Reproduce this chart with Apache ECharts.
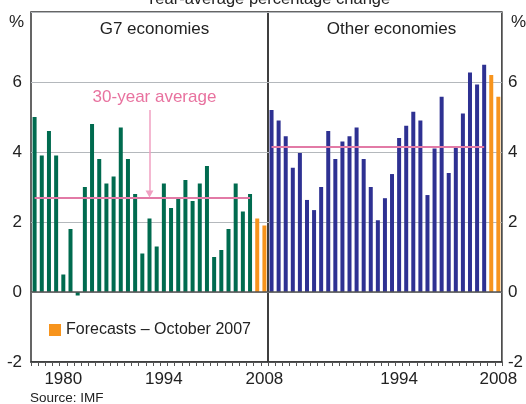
<!DOCTYPE html>
<html>
<head>
<meta charset="utf-8">
<script src="https://cdn.jsdelivr.net/npm/echarts@6/dist/echarts.min.js"></script>
<style>
html,body{margin:0;padding:0;background:#fff;}
#chart{width:526px;height:404px;}
</style>
</head>
<body>
<div id="chart"></div>
<script>
const years = ['1976','1977','1978','1979','1980','1981','1982','1983','1984','1985','1986','1987','1988','1989','1990','1991','1992','1993','1994','1995','1996','1997','1998','1999','2000','2001','2002','2003','2004','2005','2006','2007','2008'];
const leftTickLabels = ['1980','1994','2008'];
const rightTickLabels = ['1994','2008'];
const g7Actual = [5.0,3.9,4.6,3.9,0.5,1.8,-0.1,3.0,4.8,3.8,3.1,3.3,4.7,3.8,2.8,1.1,2.1,1.3,3.1,2.4,2.7,3.2,2.6,3.1,3.6,1.0,1.2,1.8,3.1,2.3,2.8,null,null];
const g7Forecast = [null,null,null,null,null,null,null,null,null,null,null,null,null,null,null,null,null,null,null,null,null,null,null,null,null,null,null,null,null,null,null,2.1,1.9];
const otherActual = [5.2,4.9,4.45,3.55,3.97,2.63,2.34,3.0,4.6,3.8,4.3,4.45,4.7,3.8,3.0,2.05,2.68,3.37,4.4,4.75,5.15,4.9,2.77,4.1,5.58,3.4,4.12,5.1,6.27,5.93,6.49,null,null];
const otherForecast = [null,null,null,null,null,null,null,null,null,null,null,null,null,null,null,null,null,null,null,null,null,null,null,null,null,null,null,null,null,null,null,6.2,5.58];
const g7Average = 2.7;
const otherAverage = 4.15;
const averageStart = '1976';
const averageEnd = '2006';
const arrowYear = '1992';
const arrowFrom = 5.2;
const arrowTo = 2.8;
const yTicks = [-2,0,2,4,6];

const FONT = "'Liberation Sans', Arial, sans-serif";
const GREEN = '#006b4f', BLUE = '#2e3192', ORANGE = '#f7941d', PINK = '#e27aa6', ARROWPINK = '#f0a0c2';
const FORECAST = 'Forecasts \u2013 October 2007';

const chart = echarts.init(document.getElementById('chart'), null, {renderer:'canvas'});

function xAxisCfg(gridIndex, labels){
  return {
    type:'category', gridIndex, data:years, boundaryGap:true, position:'bottom',
    axisLine:{show:true, onZero:false, lineStyle:{color:'#333', width:1.5}},
    axisTick:{show:true, inside:false, length:4, interval:0, lineStyle:{color:'#555', width:1}},
    axisLabel:{show:true, interval:0, margin:9, fontFamily:FONT, fontSize:17, color:'#222',
      formatter: v => labels.indexOf(v) >= 0 ? v : ''},
    splitLine:{show:false}
  };
}
function yAxisCfg(gridIndex, pos, margin){
  return {
    type:'value', gridIndex, min:-2, max:8, interval:2, position:pos,
    axisLine:{show:false}, axisTick:{show:false},
    axisLabel:{margin, fontFamily:FONT, fontSize:17, color:'#222',
      formatter: v => yTicks.indexOf(v) >= 0 ? String(v) : ''},
    splitLine:{show:true, lineStyle:{color:'#b4b8bc', width:1}}
  };
}
const zeroLine = {silent:true, symbol:'none', label:{show:false},
  lineStyle:{color:'#555', width:1.5, type:'solid'}, data:[{yAxis:0}]};

function avgLine(val){
  return {silent:true, symbol:'none', label:{show:false}, animation:false,
    lineStyle:{color:PINK, width:2, type:'solid'},
    data:[[{coord:[averageStart, val]},{coord:[averageEnd, val]}]]};
}

const option = {
  animation:false,
  backgroundColor:'#fff',
  textStyle:{fontFamily:FONT},
  title:[
    {text:'G7 economies', left:149.5, top:16, textAlign:'center',
      textStyle:{fontFamily:FONT, fontSize:17, fontWeight:'normal', color:'#222'}},
    {text:'Other economies', left:386.5, top:16, textAlign:'center',
      textStyle:{fontFamily:FONT, fontSize:17, fontWeight:'normal', color:'#222'}}
  ],
  legend:{
    data:[{name:FORECAST, icon:'rect', itemStyle:{color:ORANGE}}],
    left:44, top:317, itemWidth:12, itemHeight:12, itemGap:5,
    textStyle:{fontFamily:FONT, fontSize:16, color:'#222'}, selectedMode:false
  },
  grid:[
    {left:31, top:12, width:237, height:350, show:true, borderColor:'#333', borderWidth:1.5, backgroundColor:'transparent'},
    {left:268, top:12, width:237, height:350, show:true, borderColor:'#333', borderWidth:1.5, backgroundColor:'transparent'}
  ],
  xAxis:[xAxisCfg(0, leftTickLabels), xAxisCfg(1, rightTickLabels)],
  yAxis:[yAxisCfg(0,'left',9), yAxisCfg(1,'right',6)],
  series:[
    {name:'G7', type:'bar', xAxisIndex:0, yAxisIndex:0, data:g7Actual, barWidth:4, barGap:'-100%',
      itemStyle:{color:GREEN}, markLine:zeroLine},
    {name:FORECAST, type:'bar', xAxisIndex:0, yAxisIndex:0, data:g7Forecast, barWidth:4, barGap:'-100%',
      itemStyle:{color:ORANGE}, markLine:avgLine(g7Average)},
    {name:'Other', type:'bar', xAxisIndex:1, yAxisIndex:1, data:otherActual, barWidth:4, barGap:'-100%',
      itemStyle:{color:BLUE}, markLine:zeroLine},
    {name:FORECAST, type:'bar', xAxisIndex:1, yAxisIndex:1, data:otherForecast, barWidth:4, barGap:'-100%',
      itemStyle:{color:ORANGE}, markLine:avgLine(otherAverage)},
    {name:'arrow', type:'line', xAxisIndex:0, yAxisIndex:0, data:[], silent:true,
      markLine:{silent:true, symbol:['none','triangle'], symbolSize:[8,7], label:{show:false},
        lineStyle:{color:ARROWPINK, width:1.5, type:'solid'},
        data:[[{coord:[arrowYear, arrowFrom]},{coord:[arrowYear, arrowTo]}]]}}
  ],
  graphic:[
    {type:'text', style:{text:'Year-average percentage change', x:268, y:-1, textAlign:'center', textVerticalAlign:'middle', font:'16.5px '+FONT, fill:'#222'}},
    {type:'text', style:{text:'%', x:16.5, y:22, textAlign:'center', textVerticalAlign:'middle', font:'17px '+FONT, fill:'#222'}},
    {type:'text', style:{text:'%', x:511, y:22, textAlign:'left', textVerticalAlign:'middle', font:'17px '+FONT, fill:'#222'}},
    {type:'text', style:{text:'30-year average', x:154.5, y:97, textAlign:'center', textVerticalAlign:'middle', font:'17px '+FONT, fill:'#e8729f'}},
    {type:'text', style:{text:'Source: IMF', x:30, y:398, textAlign:'left', textVerticalAlign:'middle', font:'13.5px '+FONT, fill:'#222'}}
  ]
};
chart.setOption(option);
</script>
</body>
</html>
